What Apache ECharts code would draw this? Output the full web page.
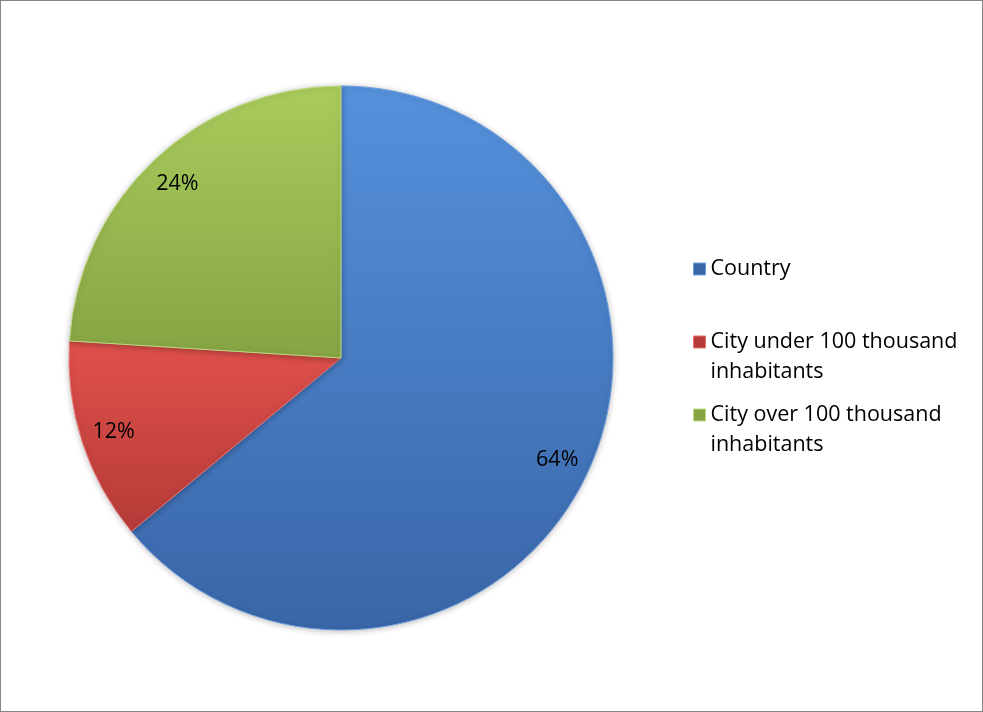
<!DOCTYPE html>
<html>
<head>
<meta charset="utf-8">
<script src="https://cdn.jsdelivr.net/npm/echarts@6/dist/echarts.min.js"></script>
<style>
html,body{margin:0;padding:0;background:#fff;}
#c{width:983px;height:712px;box-sizing:border-box;border:1px solid #868686;}
</style>
</head>
<body>
<div id="c"></div>
<script>
const categories = ['Country', 'City under 100 thousand inhabitants', 'City over 100 thousand inhabitants'];
const values = [64, 12, 24];

const palette = [
  ['#5591DC', '#3966A8', '#6FA0DE'],
  ['#E0504C', '#B53B38', '#EA7370'],
  ['#A9CC5C', '#87A444', '#BEDA80']
];

const chart = echarts.init(document.getElementById('c'));
const FONT = 'Open Sans';
const FS = 21.5;

function grad(i) {
  return new echarts.graphic.LinearGradient(0, 0, 0, 1, [
    {offset: 0, color: palette[i][0]},
    {offset: 1, color: palette[i][1]}
  ]);
}

const pieData = categories.map((n, i) => ({
  name: n,
  value: values[i],
  itemStyle: {color: grad(i), borderColor: palette[i][2], borderWidth: 1}
}));

const labelData = categories.map((n, i) => ({name: n, value: values[i]}));

function legendItem(i, top, multiline) {
  return {
    orient: 'vertical',
    left: 692,
    top: top,
    data: [{name: categories[i], icon: 'rect', itemStyle: {color: palette[i][1], borderColor: palette[i][2], borderWidth: 1}}],
    itemWidth: 12,
    itemHeight: 12,
    itemGap: 0,
    padding: 0,
    selectedMode: false,
    formatter: function (name) {
      return multiline ? '\n' + name.replace(' inhabitants', '\ninhabitants') : name;
    },
    textStyle: {
      fontFamily: FONT,
      fontSize: FS,
      color: '#000',
      lineHeight: 30
    }
  };
}

chart.setOption({
  animation: false,
  legend: [
    legendItem(0, 253, false),
    legendItem(1, 296, true),
    legendItem(2, 369, true)
  ],
  series: [
    {
      type: 'pie',
      center: [340, 357],
      radius: [0, 272],
      startAngle: 90,
      clockwise: true,
      silent: true,
      label: {show: false},
      labelLine: {show: false},
      itemStyle: {shadowBlur: 6, shadowColor: 'rgba(0,0,0,0.25)', shadowOffsetY: 1},
      data: pieData
    },
    {
      type: 'pie',
      center: [340, 357],
      radius: [0, 472],
      startAngle: 90,
      clockwise: true,
      silent: true,
      legendHoverLink: false,
      itemStyle: {color: 'rgba(0,0,0,0)', borderWidth: 0},
      label: {
        show: true,
        position: 'inside',
        formatter: function (p) { return p.value + '%'; },
        fontFamily: FONT,
        fontSize: FS,
        color: '#000'
      },
      labelLine: {show: false},
      data: labelData
    }
  ]
});
</script>
</body>
</html>
